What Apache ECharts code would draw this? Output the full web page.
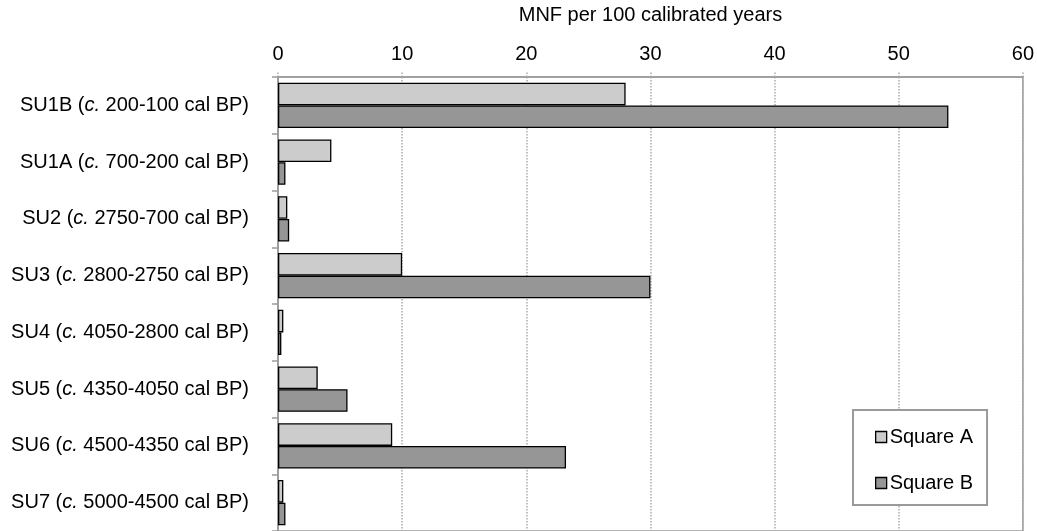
<!DOCTYPE html>
<html>
<head>
<meta charset="utf-8">
<script src="https://cdn.jsdelivr.net/npm/echarts@6/dist/echarts.min.js"></script>
<style>
html,body{margin:0;padding:0;background:#fff;}
#c{width:1037px;height:531px;}
</style>
</head>
<body>
<div id="c"></div>
<script>
var units = ['SU1B','SU1A','SU2','SU3','SU4','SU5','SU6','SU7'];
var ranges = ['200-100','700-200','2750-700','2800-2750','4050-2800','4350-4050','4500-4350','5000-4500'];
var squareA = [28, 4.3, 0.75, 10, 0.43, 3.2, 9.2, 0.43];
var squareB = [54, 0.6, 0.9, 30, 0.27, 5.6, 23.2, 0.6];
var xTicks = [0, 10, 20, 30, 40, 50, 60];

var chart = echarts.init(document.getElementById('c'));
var font = 'Liberation Sans, Arial, sans-serif';
var fs = 20;
chart.setOption({
  backgroundColor: '#fff',
  animation: false,
  textStyle: {fontFamily: font},
  grid: {left: 278, right: 12, top: 77, height: 462, show: true, borderColor: '#9a9a9a', borderWidth: 1.5, backgroundColor: 'transparent'},
  legend: {
    orient: 'vertical', left: 853, top: 410,
    padding: [17, 14, 12, 22], itemGap: 26, itemWidth: 11, itemHeight: 11,
    icon: 'rect',
    borderColor: '#9a9a9a', borderWidth: 2, backgroundColor: '#fff',
    textStyle: {fontSize: fs, color: '#000', fontFamily: font, lineHeight: 20, padding: [0, 0, 0, -2]},
    itemStyle: {borderColor: '#000', borderWidth: 1.3},
    data: ['Square A', 'Square B']
  },
  xAxis: {
    type: 'value', position: 'top', min: xTicks[0], max: xTicks[xTicks.length-1], interval: 10,
    name: 'MNF per 100 calibrated years', nameLocation: 'middle', nameGap: 52,
    nameTextStyle: {fontSize: fs, color: '#000', fontFamily: font},
    axisLine: {show: true, lineStyle: {color: '#9a9a9a', width: 1.5}},
    axisTick: {show: true, length: 6, lineStyle: {color: '#aaa', type: 'dotted', width: 1.5}},
    axisLabel: {fontSize: fs, color: '#000', margin: 13, fontFamily: font},
    splitLine: {show: true, lineStyle: {color: '#aaa', type: 'dotted', width: 1.5}}
  },
  yAxis: {
    type: 'category', inverse: true, data: units,
    axisLine: {show: true, lineStyle: {color: '#9a9a9a', width: 1.5}},
    axisTick: {show: true, length: 6, lineStyle: {color: '#9a9a9a', width: 1.5}},
    axisLabel: {
      margin: 29, fontSize: fs, color: '#000',
      formatter: function (v, i) {
        return '{n|' + v + ' (}{i|c.}{n| ' + ranges[i] + ' cal BP)}';
      },
      rich: {
        n: {fontSize: fs, color: '#000', fontFamily: font},
        i: {fontSize: fs, color: '#000', fontStyle: 'italic', fontFamily: font}
      }
    }
  },
  series: [
    {name: 'Square A', type: 'bar', data: squareA, barGap: '0%', barCategoryGap: '20%',
     itemStyle: {color: '#cccccc', borderColor: '#000', borderWidth: 1.3}},
    {name: 'Square B', type: 'bar', data: squareB,
     itemStyle: {color: '#969696', borderColor: '#000', borderWidth: 1.3}}
  ]
});
</script>
</body>
</html>
